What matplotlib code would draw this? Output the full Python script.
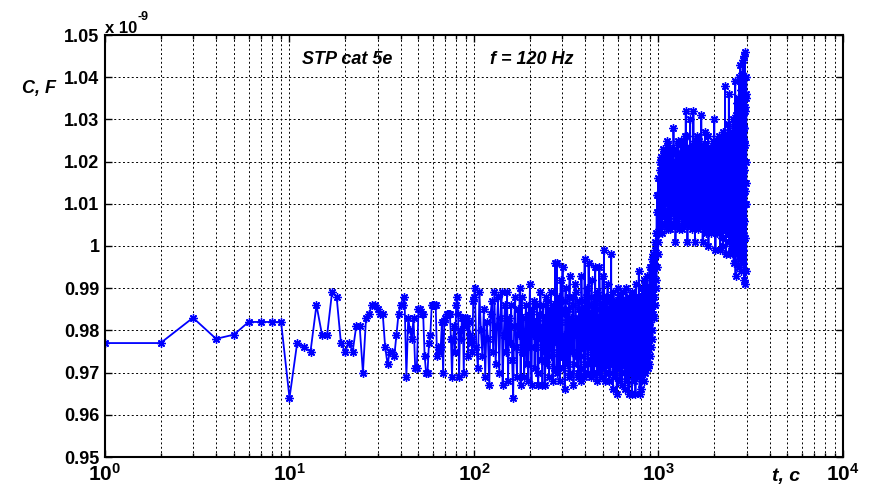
import numpy as np
import matplotlib
matplotlib.use("Agg")
import matplotlib.pyplot as plt
from matplotlib.ticker import LogLocator, FuncFormatter, NullFormatter

plt.rcParams["font.family"] = ["Liberation Sans", "DejaVu Sans"]
plt.rcParams["font.weight"] = "bold"
plt.rcParams["mathtext.fontset"] = "custom"
plt.rcParams["mathtext.rm"] = "Liberation Sans:bold"
plt.rcParams["mathtext.bf"] = "Liberation Sans:bold"
plt.rcParams["mathtext.it"] = "Liberation Sans:bold:italic"
plt.rcParams["path.simplify"] = False   # keep every swing of the dense trace

# capacitance in pF
# t = 1..100 s, every second
C_1_100 = [977, 977, 983, 978, 979, 982, 982, 982, 982, 964,
           977, 976, 975, 986, 979, 979, 989, 988, 977, 975,
           977, 975, 981, 981, 970, 983, 984, 986, 986, 985,
           984, 984, 976, 972, 975, 975, 974, 979, 984, 986,
           986, 988, 969, 983, 980, 978, 983, 971, 971, 985,
           985, 984, 984, 974, 970, 970, 977, 979, 986, 986,
           986, 986, 974, 976, 975, 976, 982, 970, 982, 983,
           984, 984, 984, 984, 978, 969, 978, 981, 975, 986,
           988, 984, 969, 980, 978, 983, 983, 970, 983, 982,
           981, 983, 974, 982, 979, 977, 978, 975, 987, 988]
# t = 101..299 s, every 2 s
C_101_299 = [990, 976, 971, 989, 980, 974, 985, 969, 982, 978,
             967, 984, 987, 975, 989, 972, 981, 988, 970, 983,
             989, 967, 979, 986, 975, 989, 968, 983, 977, 986,
             973, 964, 981, 988, 976, 969, 985, 979, 990, 967,
             988, 975, 983, 969, 978, 986, 972, 984, 968, 980,
             991, 976, 967, 985, 979, 987, 971, 982, 976, 986,
             970, 967, 984, 978, 989, 973, 981, 967, 986, 975,
             983, 967, 988, 977, 972, 987, 980, 969, 985, 976,
             989, 974, 982, 968, 986, 979, 971, 996, 977, 984,
             996, 970, 983, 975, 988, 968, 982, 992, 974, 985]
# t = 300..896 s, every 4 s
C_300_896 = [984, 971, 979, 987, 973, 982, 976, 988, 970, 983,
             975, 986, 972, 980, 989, 974, 983, 969, 985, 978,
             971, 987, 979, 974, 984, 970, 982, 990, 976, 972,
             986, 980, 973, 988, 977, 970, 984, 975, 987, 979,
             972, 985, 974, 981, 970, 988, 978, 983, 973, 986,
             980, 971, 987, 975, 984, 970, 979, 988, 973, 982,
             976, 985, 970, 981, 974, 987, 979, 972, 986, 977,
             983, 969, 987, 976, 980, 972, 985, 974, 988, 978,
             971, 984, 977, 987, 970, 982, 975, 986, 973, 980,
             987, 972, 979, 984, 970, 985, 976, 981, 973, 988,
             975, 982, 971, 986, 978, 973, 987, 970, 983, 977,
             972, 988, 976, 981, 970, 985, 978, 973, 987, 975,
             980, 970, 986, 976, 983, 972, 988, 975, 980, 971,
             985, 977, 972, 987, 974, 983, 971, 986, 979, 975,
             980, 987, 974, 984, 976, 990, 972, 985, 980, 988]
# t = 302..898 s, every 4 s
C_302_898 = [995, 978, 966, 990, 972, 985, 969, 993, 980, 975,
             988, 967, 982, 991, 974, 979, 970, 987, 983, 968,
             993, 976, 985, 969, 997, 972, 988, 980, 970, 996,
             978, 984, 969, 992, 975, 986, 970, 981, 995, 973,
             989, 968, 983, 977, 995, 971, 986, 980, 969, 993,
             974, 999, 979, 968, 988, 983, 972, 991, 976, 985,
             968, 987, 979, 998, 973, 984, 966, 989, 977, 982,
             970, 986, 975, 965, 984, 979, 990, 971, 982, 968,
             988, 976, 983, 967, 980, 989, 972, 977, 985, 966,
             982, 974, 990, 968, 979, 986, 971, 983, 965, 977,
             987, 970, 981, 976, 965, 989, 973, 984, 968, 979,
             985, 972, 965, 991, 978, 983, 969, 986, 975, 980,
             994, 971, 965, 982, 988, 974, 966, 985, 979, 990,
             973, 986, 968, 981, 992, 976, 984, 970, 989, 978,
             993, 972, 983, 975, 988, 971, 986, 978, 995, 974]
# t = 902..998 s, every 4 s (step up)
C_902_998 = [982, 995, 976, 990, 980, 997, 978, 993, 984, 998,
             983, 996, 988, 1001, 986, 999, 990, 1003, 992, 1008,
             995, 1012, 998, 1016, 1001]
# t = 1000..2990 s, every 10 s
C_1000_2990 = [1012, 1003, 1020, 1009, 1016, 1005, 1023, 1011, 1017, 1007,
               1021, 1013, 1006, 1024, 1009, 1018, 1004, 1015, 1022, 1011,
               1016, 1023, 1008, 1019, 1005, 1014, 1020, 1009, 1025, 1016,
               1010, 1022, 1013, 1017, 1007, 1024, 1011, 1019, 1008, 1021,
               1014, 1020, 1005, 1026, 1012, 1017, 1008, 1022, 1013, 1019,
               1008, 1016, 1021, 1005, 1018, 1023, 1010, 1014, 1025, 1007,
               1019, 1012, 1008, 1022, 1013, 1016, 1006, 1020, 1010, 1024,
               1014, 1021, 1009, 1017, 1005, 1019, 1023, 1012, 1015, 1020,
               1024, 1008, 1014, 1019, 1009, 1021, 1013, 1006, 1023, 1018,
               1010, 1017, 1022, 1006, 1020, 1013, 1009, 1021, 1007, 1024,
               1014, 1021, 1009, 1016, 1025, 1006, 1019, 1011, 1022, 1008,
               1018, 1012, 1020, 1007, 1024, 1013, 1017, 1009, 1021, 1012,
               1019, 1009, 1022, 1015, 1006, 1021, 1012, 1025, 1010, 1017,
               1023, 1008, 1020, 1013, 1017, 1006, 1024, 1012, 1021, 1007,
               1015, 1022, 1010, 1019, 1026, 1008, 1016, 1023, 1011, 1018,
               1006, 1021, 1013, 1025, 1009, 1018, 1024, 1007, 1020, 1013,
               1022, 1012, 1017, 1027, 1006, 1019, 1010, 1025, 1014, 1020,
               1011, 1023, 1016, 1004, 1026, 1013, 1020, 1009, 1030, 1012,
               1019, 1024, 1007, 1027, 1015, 1021, 1003, 1031, 1012, 1025,
               1018, 1006, 1028, 1013, 1032, 1002, 1024, 1015, 1035, 1010]
# t = 1005..2995 s, every 10 s
C_1005_2995 = [1004, 1018, 1006, 1021, 1003, 1014, 1008, 1022, 1005, 1019,
               1010, 1025, 1004, 1017, 1007, 1023, 1012, 1005, 1020, 1009,
               1028, 1005, 1016, 1001, 1022, 1011, 1006, 1024, 1013, 1004,
               1019, 1008, 1025, 1004, 1015, 1021, 1006, 1012, 1026, 1005,
               1032, 1007, 1018, 1001, 1023, 1010, 1015, 1005, 1030, 1009,
               1020, 1004, 1024, 1012, 1032, 1006, 1017, 1001, 1022, 1011,
               1005, 1026, 1014, 1004, 1019, 1009, 1025, 1005, 1016, 1021,
               1031, 1006, 1013, 1001, 1024, 1010, 1018, 1004, 1027, 1008,
               1015, 1003, 1022, 1011, 1005, 1026, 1000, 1017, 1012, 1004,
               1023, 1009, 1003, 1019, 1014, 1006, 1025, 1004, 1016, 1011,
               1030, 1004, 1020, 999, 1013, 1024, 1007, 1018, 1003, 1022,
               1009, 1026, 1003, 1015, 1021, 999, 1011, 1025, 1006, 1017,
               1002, 1023, 1013, 1000, 1027, 1008, 1019, 1004, 1024, 1038,
               1005, 1016, 998, 1026, 1011, 1021, 1003, 1029, 1009, 1018,
               1036, 1001, 1024, 1012, 998, 1027, 1007, 1020, 1000, 1025,
               1014, 999, 1030, 1006, 1022, 996, 1017, 1028, 1003, 1019,
               1039, 993, 1025, 1010, 1031, 998, 1021, 1034, 1002, 1016,
               1035, 995, 1027, 1008, 1040, 997, 1022, 1043, 1005, 1018,
               1037, 994, 1030, 1012, 1041, 999, 1025, 1044, 996, 1028,
               1045, 992, 1033, 1010, 1046, 991, 1036, 1020, 994, 1040]

t = np.concatenate([np.arange(1, 101), np.arange(101, 300, 2),
                    np.arange(300, 897, 4), np.arange(302, 899, 4),
                    np.arange(902, 999, 4),
                    np.arange(1000, 2991, 10), np.arange(1005, 2996, 10)])
C = np.concatenate([C_1_100, C_101_299, C_300_896, C_302_898, C_902_998,
                    C_1000_2990, C_1005_2995]) / 1000.0  # x 1e-9 F
order = np.argsort(t, kind="stable")
t, C = t[order], C[order]

W, H = 870, 491
fig = plt.figure(figsize=(W / 100, H / 100), dpi=100)
ax = fig.add_axes([105 / W, 34 / H, 738 / W, 422 / H])

ax.plot(t, C, color=(0, 0, 1), lw=1.3, marker=(8, 2, 0), ms=6, mew=1.0)

ax.set_xscale("log")
ax.set_xlim(1, 1e4)
ax.set_ylim(0.95, 1.05)
ax.set_yticks(np.arange(0.95, 1.0501, 0.01))
ax.yaxis.set_major_formatter(FuncFormatter(lambda v, _: f"{v:.2f}".rstrip("0").rstrip(".")))
ax.xaxis.set_major_locator(LogLocator(base=10))
ax.xaxis.set_minor_locator(LogLocator(base=10, subs=np.arange(2, 10)))
ax.xaxis.set_minor_formatter(NullFormatter())
ax.xaxis.set_major_formatter(FuncFormatter(lambda v, _: r"$\mathbf{10^{%d}}$" % round(np.log10(v))))

dots = (0, (2, 2.5))
ax.grid(True, which="major", ls=dots, color="k", lw=0.7)
ax.grid(True, which="minor", axis="x", ls=dots, color="k", lw=0.7)
ax.set_axisbelow(True)

ax.tick_params(which="both", direction="in", top=True, right=True, width=1)
ax.tick_params(which="major", length=5)
ax.tick_params(which="minor", length=3)
ax.tick_params(axis="y", labelsize=13, pad=4)
ax.tick_params(axis="x", labelsize=15, pad=4)
for s in ax.spines.values():
    s.set_linewidth(1.5)

fig.text(105 / W, 1 - 33 / H, "x 10", fontsize=12, fontweight="bold", va="baseline")
fig.text(138 / W, 1 - 20 / H, "-9", fontsize=9, fontweight="bold", va="baseline")
fig.text(39 / W, 1 - 88 / H, "C, F", fontsize=13, fontweight="bold", style="italic", ha="center", va="center")
fig.text(347 / W, 1 - 60 / H, "STP cat 5e", fontsize=13, fontweight="bold", style="italic", ha="center", va="center")
fig.text(532 / W, 1 - 60 / H, "f = 120 Hz", fontsize=13, fontweight="bold", style="italic", ha="center", va="center")
fig.text(786 / W, 1 - 477 / H, "t, c", fontsize=14, fontweight="bold", style="italic", ha="center", va="center")

fig.savefig("out.png", dpi=100)
